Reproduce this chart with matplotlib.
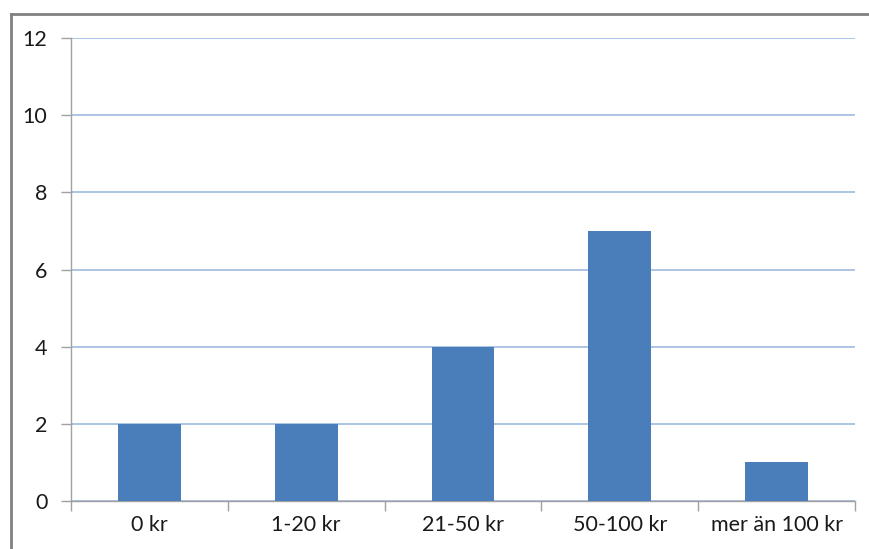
import matplotlib
matplotlib.use("Agg")
import matplotlib.pyplot as plt
from matplotlib.lines import Line2D
import numpy as np

categories = ["0 kr", "1-20 kr", "21-50 kr", "50-100 kr", "mer än 100 kr"]
values = [2, 2, 4, 7, 1]
yticks = [0, 2, 4, 6, 8, 10, 12]

plt.rcParams["font.family"] = ["Lato", "DejaVu Sans"]

fig = plt.figure(figsize=(8.69, 5.49), dpi=100)
ax = fig.add_axes([71 / 869, 1 - 501 / 549, (855 - 71) / 869, (501 - 38) / 549])

x = np.arange(len(categories))
ax.bar(x, values, width=0.4, color="#4A7EBB", zorder=3)

ax.set_xlim(-0.5, len(categories) - 0.5)
ax.set_ylim(0, 12)
ax.set_yticks(yticks)
ax.set_yticklabels([str(v) for v in yticks], fontsize=15.5, color="#1a1a1a")
ax.yaxis.grid(True, color="#A6BFE4", linewidth=1.3, zorder=0)

ax.set_xticks(x)
ax.set_xticklabels(categories, fontsize=15.5, color="#1a1a1a")
ax.tick_params(axis="x", length=0, pad=10)
ax.set_xticks(np.arange(-0.5, len(categories)), minor=True)
ax.tick_params(axis="x", which="minor", length=7, color="#A0A0A0", width=1)
ax.tick_params(axis="y", length=7, color="#A0A0A0", width=1, pad=10)

for side in ["top", "right"]:
    ax.spines[side].set_visible(False)
for side in ["left", "bottom"]:
    ax.spines[side].set_color("#A0A0A0")
    ax.spines[side].set_linewidth(1)

# chart frame (top and left edges)
fig.add_artist(Line2D([11 / 869, 1.0], [1 - 14 / 549, 1 - 14 / 549],
                      transform=fig.transFigure, color="#808080", linewidth=2))
fig.add_artist(Line2D([11 / 869, 11 / 869], [0.0, 1 - 14 / 549],
                      transform=fig.transFigure, color="#808080", linewidth=2))

fig.savefig("out.png", dpi=100)
